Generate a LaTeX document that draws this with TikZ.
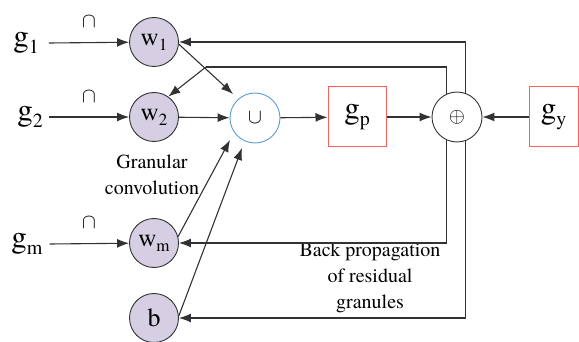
\documentclass[tikz,border=0pt]{standalone}
\usepackage{fontspec}
\setmainfont{texgyretermes}[Extension=.otf,UprightFont=*-regular,BoldFont=*-bold,ItalicFont=*-italic]
\usetikzlibrary{arrows.meta}
\definecolor{lineg}{RGB}{50,50,50}
\definecolor{wfill}{RGB}{214,206,226}
\definecolor{ublue}{RGB}{91,155,213}
\definecolor{bred}{RGB}{255,95,95}
\newcommand{\bigsub}[2]{{\fontsize{31}{31}\selectfont #1}\raisebox{-7pt}{\fontsize{20}{20}\selectfont #2}}
\newcommand{\wsub}[2]{{\fontsize{25}{25}\selectfont #1}\raisebox{-5pt}{\fontsize{17}{17}\selectfont #2}}
\begin{document}
\begin{tikzpicture}[x=1pt,y=-1pt,
  wnode/.style={circle,draw=lineg,fill=wfill,line width=0.9pt,minimum size=49pt,inner sep=0pt},
  opnode/.style={circle,draw=lineg,fill=white,line width=0.9pt,minimum size=50pt,inner sep=0pt},
  unode/.style={circle,draw=ublue,fill=white,line width=0.9pt,minimum size=50pt,inner sep=0pt},
  gbox/.style={draw=bred,line width=1pt,fill=white,minimum height=60pt,inner sep=0pt},
  conn/.style={draw=lineg,line width=1.1pt},
  arr/.style={conn,-{Latex[length=12pt,width=9pt]}},
  lbl/.style={inner sep=0pt,align=center,font=\fontsize{20}{26}\selectfont}]
\useasboundingbox (0,0) rectangle (579,342);
% nodes
\node[wnode] (w1) at (154,42) {\wsub{w}{1}};
\node[wnode] (w2) at (154,117) {\wsub{w}{2}};
\node[wnode] (wm) at (154,243) {\wsub{w}{m}};
\node[wnode] (b) at (154,318) {\fontsize{26}{26}\selectfont b};
\node[unode] (U) at (255,118) {\fontsize{21}{21}\selectfont$\cup$};
\node[gbox,minimum width=58pt] (gp) at (357,117) {\bigsub{g}{p}};
\node[opnode] (plus) at (457,117) {\fontsize{22}{22}\selectfont$\oplus$};
\node[gbox,minimum width=49pt] (gy) at (553.5,117) {\bigsub{g}{y}};
\node[inner sep=0pt] (g1) at (26,43) {\bigsub{g}{1}};
\node[inner sep=0pt] (g2) at (30,117) {\bigsub{g}{2}};
\node[inner sep=0pt] (gm) at (27,244) {\bigsub{g}{m}};
\node[inner sep=0pt] (c1) at (89,22) {\fontsize{22}{22}\selectfont$\cap$};
\node[inner sep=0pt] (c2) at (89,97) {\fontsize{22}{22}\selectfont$\cap$};
\node[inner sep=0pt] (c3) at (89,223) {\fontsize{22}{22}\selectfont$\cap$};
\node[lbl] (gc) at (152,175) {Granular\\convolution};
\node[lbl] (bp) at (370,278) {Back propagation\\of residual\\granules};
% coordinates
\coordinate (u1) at (233,94);
\coordinate (uw) at (230,140);
\coordinate (ub) at (242,148);
\coordinate (br) at (206,67);
% input arrows
\draw[arr] ([xshift=10pt]g1.east) -- (w1);
\draw[arr] ([xshift=6pt]g2.east) -- (w2);
\draw[arr] ([xshift=7pt]gm.east) -- (wm);
% main flow
\draw[arr] (w2) -- (U);
\draw[arr] (U) -- (gp);
\draw[arr] (gp) -- (plus);
\draw[arr] (gy) -- (plus);
\draw[arr] (w1.-5) -- (u1);
\draw[arr] (wm.15) -- (uw);
\draw[arr] (b.5) -- (ub);
% feedback
\draw[arr] (plus.70) |- (w1.east);
\draw[arr] (plus.-70) |- (b.east);
\draw[conn] (plus.114) |- (br);
\draw[arr] (br) -- (w2.55);
\draw[arr] (plus.-114) |- (wm.east);
\end{tikzpicture}
\end{document}
